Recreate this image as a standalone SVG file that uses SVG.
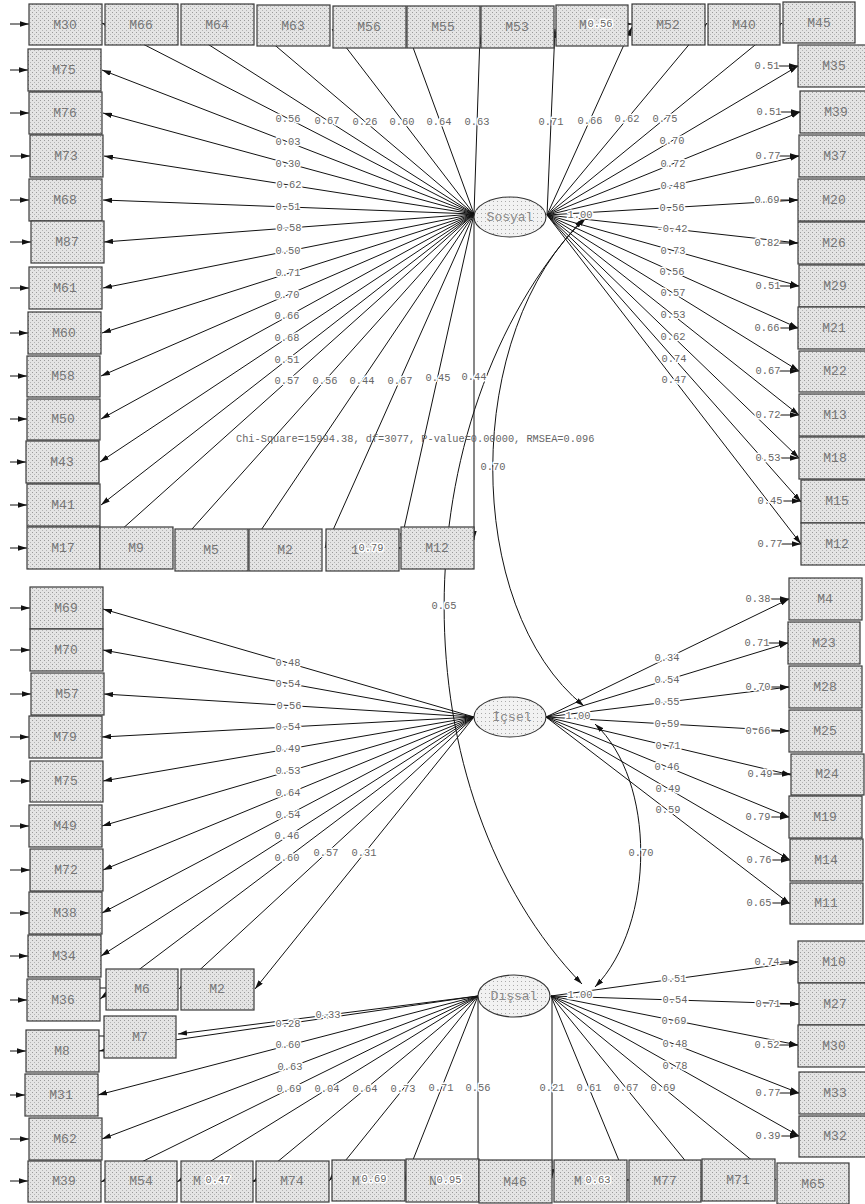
<svg xmlns="http://www.w3.org/2000/svg" width="865" height="1204" viewBox="0 0 865 1204">
<style>
.b{fill:url(#dots);stroke:#3a3a3a;stroke-width:1.2}
.el{fill:url(#edots);stroke:#333;stroke-width:1.1}
.t{font-family:"Liberation Mono",monospace;font-size:13px;fill:#777;text-anchor:middle;dominant-baseline:central}
.et{font-family:"Liberation Mono",monospace;font-size:13px;fill:#888;text-anchor:middle;dominant-baseline:central}
.l{font-family:"Liberation Mono",monospace;font-size:10.4px;fill:#666;text-anchor:middle;dominant-baseline:central;paint-order:stroke;stroke:#fff;stroke-width:3px;stroke-linejoin:round}
.c{stroke:#111;stroke-width:1;fill:none;marker-end:url(#ah)}
.cv{stroke:#111;stroke-width:1;fill:none;marker-start:url(#ah);marker-end:url(#ah)}
.er{stroke:#111;stroke-width:1;marker-end:url(#ah)}
</style>
<defs>
<pattern id="dots" width="4" height="4" patternUnits="userSpaceOnUse">
<rect width="4" height="4" fill="#e4e4e4"/>
<rect x="0" y="0" width="1" height="1" fill="#9a9a9a"/>
<rect x="2" y="2" width="1" height="1" fill="#b4b4b4"/>
</pattern>
<pattern id="edots" width="4" height="4" patternUnits="userSpaceOnUse">
<rect width="4" height="4" fill="#f2f2f2"/>
<rect x="1" y="1" width="1" height="1" fill="#aaa"/>
</pattern>
<marker id="ah" viewBox="0 0 10 6" refX="10" refY="3" markerWidth="9" markerHeight="5.4" markerUnits="userSpaceOnUse" orient="auto-start-reverse">
<path d="M0,0 L10,3 L0,6 z" fill="#111"/>
</marker>
</defs>
<rect width="865" height="1204" fill="#fff"/>

<g id="connectors">
<line class="c" x1="474" y1="214" x2="102" y2="23"/>
<line class="c" x1="474" y1="214" x2="181" y2="27"/>
<line class="c" x1="474" y1="214" x2="257" y2="30"/>
<line class="c" x1="474" y1="214" x2="332" y2="29"/>
<line class="c" x1="474" y1="214" x2="407" y2="31"/>
<line class="c" x1="474" y1="214" x2="480" y2="35"/>
<line class="c" x1="547" y1="215" x2="555" y2="29"/>
<line class="c" x1="547" y1="215" x2="632" y2="27"/>
<line class="c" x1="547" y1="215" x2="707" y2="23"/>
<line class="c" x1="547" y1="215" x2="782" y2="23"/>
<line class="c" x1="474" y1="214" x2="102" y2="70"/>
<line class="c" x1="474" y1="214" x2="103" y2="113"/>
<line class="c" x1="474" y1="214" x2="104" y2="156"/>
<line class="c" x1="474" y1="214" x2="103" y2="200"/>
<line class="c" x1="474" y1="214" x2="104" y2="242"/>
<line class="c" x1="474" y1="214" x2="103" y2="288"/>
<line class="c" x1="474" y1="214" x2="102" y2="333"/>
<line class="c" x1="474" y1="214" x2="101" y2="376"/>
<line class="c" x1="474" y1="214" x2="101" y2="419"/>
<line class="c" x1="474" y1="214" x2="100" y2="462"/>
<line class="c" x1="474" y1="214" x2="101" y2="505"/>
<line class="c" x1="474" y1="214" x2="101" y2="548"/>
<line class="c" x1="474" y1="214" x2="175" y2="548"/>
<line class="c" x1="474" y1="214" x2="249" y2="548"/>
<line class="c" x1="474" y1="214" x2="325" y2="548"/>
<line class="c" x1="474" y1="214" x2="401" y2="542"/>
<line class="c" x1="474" y1="214" x2="474" y2="540"/>
<line class="c" x1="547" y1="215" x2="798" y2="66"/>
<line class="c" x1="547" y1="215" x2="800" y2="112"/>
<line class="c" x1="547" y1="215" x2="799" y2="156"/>
<line class="c" x1="547" y1="215" x2="798" y2="200"/>
<line class="c" x1="547" y1="215" x2="798" y2="243"/>
<line class="c" x1="547" y1="215" x2="799" y2="286"/>
<line class="c" x1="547" y1="215" x2="798" y2="328"/>
<line class="c" x1="547" y1="215" x2="799" y2="371"/>
<line class="c" x1="547" y1="215" x2="799" y2="415"/>
<line class="c" x1="547" y1="215" x2="799" y2="458"/>
<line class="c" x1="547" y1="215" x2="801" y2="502"/>
<line class="c" x1="547" y1="215" x2="801" y2="544"/>
<line class="c" x1="474" y1="717" x2="103" y2="609"/>
<line class="c" x1="474" y1="717" x2="103" y2="650"/>
<line class="c" x1="474" y1="717" x2="104" y2="694"/>
<line class="c" x1="474" y1="717" x2="102" y2="737"/>
<line class="c" x1="474" y1="717" x2="103" y2="781"/>
<line class="c" x1="474" y1="717" x2="102" y2="826"/>
<line class="c" x1="474" y1="717" x2="103" y2="870"/>
<line class="c" x1="474" y1="717" x2="102" y2="913"/>
<line class="c" x1="474" y1="717" x2="101" y2="956"/>
<line class="c" x1="474" y1="717" x2="100" y2="999"/>
<line class="c" x1="474" y1="717" x2="179" y2="989"/>
<line class="c" x1="474" y1="717" x2="255" y2="989"/>
<line class="c" x1="546" y1="717" x2="789" y2="599"/>
<line class="c" x1="546" y1="717" x2="788" y2="643"/>
<line class="c" x1="546" y1="717" x2="789" y2="687"/>
<line class="c" x1="546" y1="717" x2="789" y2="731"/>
<line class="c" x1="546" y1="717" x2="791" y2="775"/>
<line class="c" x1="546" y1="717" x2="789" y2="817"/>
<line class="c" x1="546" y1="717" x2="790" y2="860"/>
<line class="c" x1="546" y1="717" x2="790" y2="904"/>
<line class="c" x1="478" y1="996" x2="178" y2="1034"/>
<line class="c" x1="478" y1="996" x2="99" y2="1051"/>
<line class="c" x1="478" y1="996" x2="98" y2="1095"/>
<line class="c" x1="478" y1="996" x2="102" y2="1139"/>
<line class="c" x1="478" y1="996" x2="101" y2="1182"/>
<line class="c" x1="478" y1="996" x2="177" y2="1182"/>
<line class="c" x1="478" y1="996" x2="253" y2="1182"/>
<line class="c" x1="478" y1="996" x2="329" y2="1181"/>
<line class="c" x1="478" y1="996" x2="405" y2="1180"/>
<line class="c" x1="478" y1="996" x2="478" y2="1178"/>
<line class="c" x1="552" y1="996" x2="552" y2="1178"/>
<line class="c" x1="551" y1="996" x2="627" y2="1180"/>
<line class="c" x1="551" y1="996" x2="701" y2="1180"/>
<line class="c" x1="551" y1="996" x2="776" y2="1180"/>
<line class="c" x1="551" y1="996" x2="798" y2="962"/>
<line class="c" x1="551" y1="996" x2="799" y2="1004"/>
<line class="c" x1="551" y1="996" x2="798" y2="1045"/>
<line class="c" x1="551" y1="996" x2="799" y2="1093"/>
<line class="c" x1="551" y1="996" x2="799" y2="1136"/>
<path class="cv" d="M586,218 C462,330 462,608 584,706"/>
<path class="cv" d="M595,724 C656,780 656,924 595,987"/>
<path class="cv" d="M583,219 C398,420 398,795 582,984"/>
<line class="er" x1="10" y1="24" x2="29" y2="24"/>
<line class="er" x1="10" y1="70" x2="28" y2="70"/>
<line class="er" x1="10" y1="113" x2="29" y2="113"/>
<line class="er" x1="10" y1="156" x2="30" y2="156"/>
<line class="er" x1="10" y1="200" x2="29" y2="200"/>
<line class="er" x1="10" y1="242" x2="31" y2="242"/>
<line class="er" x1="10" y1="288" x2="29" y2="288"/>
<line class="er" x1="10" y1="333" x2="28" y2="333"/>
<line class="er" x1="10" y1="376" x2="27" y2="376"/>
<line class="er" x1="10" y1="419" x2="27" y2="419"/>
<line class="er" x1="10" y1="462" x2="26" y2="462"/>
<line class="er" x1="10" y1="505" x2="27" y2="505"/>
<line class="er" x1="10" y1="548" x2="27" y2="548"/>
<line class="er" x1="10" y1="608" x2="30" y2="608"/>
<line class="er" x1="10" y1="650" x2="30" y2="650"/>
<line class="er" x1="10" y1="694" x2="31" y2="694"/>
<line class="er" x1="10" y1="737" x2="29" y2="737"/>
<line class="er" x1="10" y1="781" x2="30" y2="781"/>
<line class="er" x1="10" y1="826" x2="29" y2="826"/>
<line class="er" x1="10" y1="870" x2="30" y2="870"/>
<line class="er" x1="10" y1="913" x2="29" y2="913"/>
<line class="er" x1="10" y1="956" x2="28" y2="956"/>
<line class="er" x1="10" y1="1000" x2="27" y2="1000"/>
<line class="er" x1="10" y1="1051" x2="26" y2="1051"/>
<line class="er" x1="10" y1="1095" x2="25" y2="1095"/>
<line class="er" x1="10" y1="1139" x2="29" y2="1139"/>
<line class="er" x1="10" y1="1181" x2="28" y2="1181"/>
<line stroke="#111" x1="100" y1="988" x2="106" y2="988"/>
<line stroke="#111" x1="99" y1="1036" x2="104" y2="1036"/>
<line class="er" x1="778" y1="66" x2="798" y2="66"/>
<line class="er" x1="780" y1="112" x2="800" y2="112"/>
<line class="er" x1="779" y1="156" x2="799" y2="156"/>
<line class="er" x1="778" y1="200" x2="798" y2="200"/>
<line class="er" x1="778" y1="243" x2="798" y2="243"/>
<line class="er" x1="779" y1="286" x2="799" y2="286"/>
<line class="er" x1="778" y1="328" x2="798" y2="328"/>
<line class="er" x1="779" y1="371" x2="799" y2="371"/>
<line class="er" x1="779" y1="415" x2="799" y2="415"/>
<line class="er" x1="779" y1="458" x2="799" y2="458"/>
<line class="er" x1="781" y1="501" x2="801" y2="501"/>
<line class="er" x1="781" y1="544" x2="801" y2="544"/>
<line class="er" x1="769" y1="599" x2="789" y2="599"/>
<line class="er" x1="768" y1="643" x2="788" y2="643"/>
<line class="er" x1="769" y1="687" x2="789" y2="687"/>
<line class="er" x1="769" y1="731" x2="789" y2="731"/>
<line class="er" x1="771" y1="774" x2="791" y2="774"/>
<line class="er" x1="769" y1="817" x2="789" y2="817"/>
<line class="er" x1="770" y1="860" x2="790" y2="860"/>
<line class="er" x1="770" y1="903" x2="790" y2="903"/>
<line class="er" x1="778" y1="962" x2="798" y2="962"/>
<line class="er" x1="779" y1="1004" x2="799" y2="1004"/>
<line class="er" x1="778" y1="1045" x2="798" y2="1045"/>
<line class="er" x1="779" y1="1093" x2="799" y2="1093"/>
<line class="er" x1="779" y1="1136" x2="799" y2="1136"/>
<line class="er" x1="612" y1="24" x2="632" y2="24"/>
<line class="er" x1="383" y1="548" x2="401" y2="548"/>
<line class="er" x1="233" y1="1181" x2="256" y2="1181"/>
<line class="er" x1="387" y1="1180" x2="406" y2="1180"/>
<line class="er" x1="461" y1="1180" x2="479" y2="1180"/>
<line class="er" x1="611" y1="1180" x2="629" y2="1180"/>
</g>

<g id="loading-labels">
<text class="l" x="288" y="119">0.56</text>
<text class="l" x="327" y="121">0.67</text>
<text class="l" x="365" y="122">0.26</text>
<text class="l" x="402" y="122">0.60</text>
<text class="l" x="439" y="122">0.64</text>
<text class="l" x="477" y="122">0.63</text>
<text class="l" x="551" y="122">0.71</text>
<text class="l" x="590" y="121">0.66</text>
<text class="l" x="627" y="119">0.62</text>
<text class="l" x="665" y="119">0.75</text>
<text class="l" x="288" y="142">0.03</text>
<text class="l" x="288" y="164">0.30</text>
<text class="l" x="289" y="185">0.62</text>
<text class="l" x="288" y="207">0.51</text>
<text class="l" x="289" y="228">0.58</text>
<text class="l" x="288" y="251">0.50</text>
<text class="l" x="288" y="273">0.71</text>
<text class="l" x="287" y="295">0.70</text>
<text class="l" x="287" y="316">0.66</text>
<text class="l" x="287" y="338">0.68</text>
<text class="l" x="287" y="360">0.51</text>
<text class="l" x="287" y="381">0.57</text>
<text class="l" x="325" y="381">0.56</text>
<text class="l" x="362" y="381">0.44</text>
<text class="l" x="400" y="381">0.67</text>
<text class="l" x="438" y="378">0.45</text>
<text class="l" x="474" y="377">0.44</text>
<text class="l" x="672" y="141">0.70</text>
<text class="l" x="673" y="164">0.72</text>
<text class="l" x="673" y="186">0.48</text>
<text class="l" x="672" y="208">0.56</text>
<text class="l" x="672" y="229">-0.42</text>
<text class="l" x="673" y="251">0.73</text>
<text class="l" x="672" y="272">0.56</text>
<text class="l" x="673" y="293">0.57</text>
<text class="l" x="673" y="315">0.53</text>
<text class="l" x="673" y="337">0.62</text>
<text class="l" x="674" y="359">0.74</text>
<text class="l" x="674" y="380">0.47</text>
<text class="l" x="288" y="663">0.48</text>
<text class="l" x="288" y="684">0.54</text>
<text class="l" x="289" y="706">0.56</text>
<text class="l" x="288" y="727">0.54</text>
<text class="l" x="288" y="749">0.49</text>
<text class="l" x="288" y="771">0.53</text>
<text class="l" x="288" y="793">0.64</text>
<text class="l" x="288" y="815">0.54</text>
<text class="l" x="287" y="836">0.46</text>
<text class="l" x="287" y="858">0.60</text>
<text class="l" x="326" y="853">0.57</text>
<text class="l" x="364" y="853">0.31</text>
<text class="l" x="667" y="658">0.34</text>
<text class="l" x="667" y="680">0.54</text>
<text class="l" x="667" y="702">0.55</text>
<text class="l" x="667" y="724">0.59</text>
<text class="l" x="668" y="746">0.71</text>
<text class="l" x="667" y="767">0.46</text>
<text class="l" x="668" y="789">0.49</text>
<text class="l" x="668" y="810">0.59</text>
<text class="l" x="328" y="1015">0.33</text>
<text class="l" x="288" y="1024">0.28</text>
<text class="l" x="288" y="1045">0.60</text>
<text class="l" x="290" y="1067">0.63</text>
<text class="l" x="289" y="1089">0.69</text>
<text class="l" x="327" y="1089">0.04</text>
<text class="l" x="365" y="1089">0.64</text>
<text class="l" x="403" y="1089">0.73</text>
<text class="l" x="441" y="1088">0.71</text>
<text class="l" x="478" y="1088">0.56</text>
<text class="l" x="552" y="1088">0.21</text>
<text class="l" x="589" y="1088">0.61</text>
<text class="l" x="626" y="1088">0.67</text>
<text class="l" x="663" y="1088">0.69</text>
<text class="l" x="674" y="979">0.51</text>
<text class="l" x="675" y="1000">0.54</text>
<text class="l" x="674" y="1021">0.69</text>
<text class="l" x="675" y="1044">0.48</text>
<text class="l" x="675" y="1066">0.78</text>
<text class="l" x="493" y="467">0.70</text>
<text class="l" x="641" y="853">0.70</text>
<text class="l" x="444" y="606">0.65</text>
</g>

<g id="error-labels">
<text class="l" x="767" y="66">0.51</text>
<text class="l" x="769" y="112">0.51</text>
<text class="l" x="768" y="156">0.77</text>
<text class="l" x="767" y="200">0.69</text>
<text class="l" x="767" y="243">0.82</text>
<text class="l" x="768" y="286">0.51</text>
<text class="l" x="767" y="328">0.66</text>
<text class="l" x="768" y="371">0.67</text>
<text class="l" x="768" y="415">0.72</text>
<text class="l" x="768" y="458">0.53</text>
<text class="l" x="770" y="501">0.45</text>
<text class="l" x="770" y="544">0.77</text>
<text class="l" x="758" y="599">0.38</text>
<text class="l" x="757" y="643">0.71</text>
<text class="l" x="758" y="687">0.70</text>
<text class="l" x="758" y="731">0.66</text>
<text class="l" x="760" y="774">0.49</text>
<text class="l" x="758" y="817">0.79</text>
<text class="l" x="759" y="860">0.76</text>
<text class="l" x="759" y="903">0.65</text>
<text class="l" x="767" y="962">0.74</text>
<text class="l" x="768" y="1004">0.71</text>
<text class="l" x="767" y="1045">0.52</text>
<text class="l" x="768" y="1093">0.77</text>
<text class="l" x="768" y="1136">0.39</text>
</g>

<text x="236" y="439" font-family="Liberation Mono, monospace" font-size="10.3" fill="#666" dominant-baseline="central">Chi-Square=15994.38, df=3077, P-value=0.00000, RMSEA=0.096</text>

<g id="Sosyal"><ellipse class="el" cx="510" cy="217" rx="36" ry="20"/><text class="et" x="510" y="217">Sosyal</text><text class="l" x="580" y="215">1.00</text></g>
<g id="Icsel"><ellipse class="el" cx="510" cy="717" rx="36" ry="20"/><text class="et" x="512" y="717">İçsel</text><text class="l" x="578" y="716">1.00</text></g>
<g id="Dissal"><ellipse class="el" cx="514" cy="996" rx="36" ry="21"/><text class="et" x="514" y="996">Dışsal</text><text class="l" x="580" y="995">1.00</text></g>

<g id="M30a"><rect class="b" x="29" y="4" width="73" height="41"/><text class="t" x="65" y="25">M30</text></g>
<g id="M66"><rect class="b" x="105" y="4" width="73" height="41"/><text class="t" x="141" y="25">M66</text></g>
<g id="M64"><rect class="b" x="181" y="4" width="73" height="41"/><text class="t" x="217" y="25">M64</text></g>
<g id="M63"><rect class="b" x="257" y="5" width="73" height="41"/><text class="t" x="293" y="26">M63</text></g>
<g id="M56"><rect class="b" x="333" y="6" width="73" height="42"/><text class="t" x="369" y="27">M56</text></g>
<g id="M55"><rect class="b" x="407" y="6" width="73" height="42"/><text class="t" x="443" y="27">M55</text></g>
<g id="M53"><rect class="b" x="481" y="6" width="73" height="42"/><text class="t" x="517" y="27">M53</text></g>
<g id="Mx056"><rect class="b" x="556" y="5" width="72" height="41"/><text class="t" x="583" y="25">M</text><text class="l" x="600" y="24">0.56</text></g>
<g id="M52"><rect class="b" x="632" y="4" width="73" height="41"/><text class="t" x="668" y="25">M52</text></g>
<g id="M40"><rect class="b" x="708" y="4" width="72" height="41"/><text class="t" x="744" y="25">M40</text></g>
<g id="M45"><rect class="b" x="783" y="2" width="72" height="41"/><text class="t" x="819" y="23">M45</text></g>

<g id="M35"><rect class="b" x="798" y="45" width="72" height="42"/><text class="t" x="834" y="66">M35</text></g>
<g id="M39a"><rect class="b" x="800" y="91" width="72" height="42"/><text class="t" x="836" y="112">M39</text></g>
<g id="M37"><rect class="b" x="799" y="135" width="72" height="42"/><text class="t" x="835" y="156">M37</text></g>
<g id="M20"><rect class="b" x="798" y="179" width="72" height="42"/><text class="t" x="834" y="200">M20</text></g>
<g id="M26"><rect class="b" x="798" y="222" width="72" height="42"/><text class="t" x="834" y="243">M26</text></g>
<g id="M29"><rect class="b" x="799" y="265" width="72" height="42"/><text class="t" x="835" y="286">M29</text></g>
<g id="M21"><rect class="b" x="798" y="307" width="72" height="42"/><text class="t" x="834" y="328">M21</text></g>
<g id="M22"><rect class="b" x="799" y="351" width="72" height="41"/><text class="t" x="835" y="371">M22</text></g>
<g id="M13"><rect class="b" x="799" y="394" width="72" height="42"/><text class="t" x="835" y="415">M13</text></g>
<g id="M18"><rect class="b" x="799" y="437" width="72" height="42"/><text class="t" x="835" y="458">M18</text></g>
<g id="M15"><rect class="b" x="801" y="480" width="72" height="43"/><text class="t" x="837" y="501">M15</text></g>
<g id="M12a"><rect class="b" x="801" y="523" width="72" height="42"/><text class="t" x="837" y="544">M12</text></g>

<g id="M75a"><rect class="b" x="28" y="49" width="73" height="42"/><text class="t" x="64" y="70">M75</text></g>
<g id="M76"><rect class="b" x="29" y="92" width="73" height="42"/><text class="t" x="65" y="113">M76</text></g>
<g id="M73"><rect class="b" x="30" y="135" width="73" height="42"/><text class="t" x="66" y="156">M73</text></g>
<g id="M68"><rect class="b" x="29" y="179" width="73" height="42"/><text class="t" x="65" y="200">M68</text></g>
<g id="M87"><rect class="b" x="31" y="221" width="73" height="42"/><text class="t" x="67" y="242">M87</text></g>
<g id="M61"><rect class="b" x="29" y="267" width="73" height="42"/><text class="t" x="65" y="288">M61</text></g>
<g id="M60"><rect class="b" x="28" y="312" width="73" height="42"/><text class="t" x="64" y="333">M60</text></g>
<g id="M58"><rect class="b" x="27" y="356" width="73" height="41"/><text class="t" x="63" y="376">M58</text></g>
<g id="M50"><rect class="b" x="27" y="399" width="73" height="41"/><text class="t" x="63" y="419">M50</text></g>
<g id="M43"><rect class="b" x="26" y="441" width="73" height="42"/><text class="t" x="62" y="462">M43</text></g>
<g id="M41"><rect class="b" x="27" y="484" width="73" height="42"/><text class="t" x="63" y="505">M41</text></g>
<g id="M17"><rect class="b" x="27" y="527" width="73" height="42"/><text class="t" x="63" y="548">M17</text></g>
<g id="M9"><rect class="b" x="100" y="527" width="73" height="42"/><text class="t" x="136" y="548">M9</text></g>
<g id="M5"><rect class="b" x="175" y="529" width="73" height="42"/><text class="t" x="211" y="550">M5</text></g>
<g id="M2a"><rect class="b" x="249" y="529" width="73" height="42"/><text class="t" x="285" y="550">M2</text></g>
<g id="Mx079"><rect class="b" x="326" y="529" width="73" height="42"/><text class="t" x="355" y="550">1</text><text class="l" x="371" y="548">0.79</text></g>
<g id="M12b"><rect class="b" x="401" y="527" width="73" height="42"/><text class="t" x="437" y="548">M12</text></g>

<g id="M69"><rect class="b" x="30" y="587" width="73" height="42"/><text class="t" x="66" y="608">M69</text></g>
<g id="M70"><rect class="b" x="30" y="629" width="73" height="42"/><text class="t" x="66" y="650">M70</text></g>
<g id="M57"><rect class="b" x="31" y="673" width="73" height="42"/><text class="t" x="67" y="694">M57</text></g>
<g id="M79"><rect class="b" x="29" y="716" width="73" height="42"/><text class="t" x="65" y="737">M79</text></g>
<g id="M75b"><rect class="b" x="30" y="761" width="73" height="41"/><text class="t" x="66" y="781">M75</text></g>
<g id="M49"><rect class="b" x="29" y="805" width="73" height="42"/><text class="t" x="65" y="826">M49</text></g>
<g id="M72"><rect class="b" x="30" y="849" width="73" height="42"/><text class="t" x="66" y="870">M72</text></g>
<g id="M38"><rect class="b" x="29" y="892" width="73" height="42"/><text class="t" x="65" y="913">M38</text></g>
<g id="M34"><rect class="b" x="28" y="935" width="73" height="42"/><text class="t" x="64" y="956">M34</text></g>
<g id="M36"><rect class="b" x="27" y="979" width="73" height="42"/><text class="t" x="63" y="1000">M36</text></g>
<g id="M6"><rect class="b" x="106" y="969" width="72" height="41"/><text class="t" x="142" y="989">M6</text></g>
<g id="M2b"><rect class="b" x="181" y="969" width="73" height="41"/><text class="t" x="217" y="989">M2</text></g>

<g id="M4"><rect class="b" x="789" y="578" width="73" height="42"/><text class="t" x="825" y="599">M4</text></g>
<g id="M23"><rect class="b" x="788" y="622" width="72" height="42"/><text class="t" x="824" y="643">M23</text></g>
<g id="M28"><rect class="b" x="789" y="666" width="73" height="42"/><text class="t" x="825" y="687">M28</text></g>
<g id="M25"><rect class="b" x="789" y="710" width="73" height="42"/><text class="t" x="825" y="731">M25</text></g>
<g id="M24"><rect class="b" x="791" y="754" width="73" height="41"/><text class="t" x="827" y="774">M24</text></g>
<g id="M19"><rect class="b" x="789" y="796" width="73" height="42"/><text class="t" x="825" y="817">M19</text></g>
<g id="M14"><rect class="b" x="790" y="839" width="73" height="42"/><text class="t" x="826" y="860">M14</text></g>
<g id="M11"><rect class="b" x="790" y="883" width="73" height="41"/><text class="t" x="826" y="903">M11</text></g>

<g id="M7"><rect class="b" x="104" y="1016" width="72" height="42"/><text class="t" x="140" y="1037">M7</text></g>
<g id="M8"><rect class="b" x="26" y="1030" width="73" height="42"/><text class="t" x="62" y="1051">M8</text></g>
<g id="M31"><rect class="b" x="25" y="1074" width="73" height="42"/><text class="t" x="61" y="1095">M31</text></g>
<g id="M62"><rect class="b" x="29" y="1118" width="73" height="42"/><text class="t" x="65" y="1139">M62</text></g>
<g id="M39b"><rect class="b" x="28" y="1161" width="73" height="41"/><text class="t" x="64" y="1181">M39</text></g>
<g id="M54"><rect class="b" x="105" y="1161" width="72" height="41"/><text class="t" x="141" y="1181">M54</text></g>
<g id="Mx047"><rect class="b" x="181" y="1161" width="72" height="41"/><text class="t" x="197" y="1181">M</text><text class="l" x="218" y="1180">0.47</text></g>
<g id="M74"><rect class="b" x="256" y="1161" width="73" height="41"/><text class="t" x="292" y="1181">M74</text></g>
<g id="Mx069"><rect class="b" x="332" y="1160" width="73" height="41"/><text class="t" x="356" y="1181">M</text><text class="l" x="374" y="1179">0.69</text></g>
<g id="Nx095"><rect class="b" x="406" y="1159" width="73" height="43"/><text class="t" x="433" y="1181">N</text><text class="l" x="449" y="1180">0.95</text></g>
<g id="M46"><rect class="b" x="479" y="1160" width="73" height="43"/><text class="t" x="515" y="1182">M46</text></g>
<g id="Mx063"><rect class="b" x="554" y="1160" width="73" height="42"/><text class="t" x="578" y="1181">M</text><text class="l" x="598" y="1180">0.63</text></g>
<g id="M77"><rect class="b" x="629" y="1160" width="72" height="42"/><text class="t" x="665" y="1181">M77</text></g>
<g id="M71"><rect class="b" x="702" y="1159" width="73" height="42"/><text class="t" x="738" y="1180">M71</text></g>
<g id="M65"><rect class="b" x="777" y="1163" width="72" height="41"/><text class="t" x="813" y="1184">M65</text></g>

<g id="M10"><rect class="b" x="798" y="941" width="72" height="42"/><text class="t" x="834" y="962">M10</text></g>
<g id="M27"><rect class="b" x="799" y="983" width="72" height="42"/><text class="t" x="835" y="1004">M27</text></g>
<g id="M30b"><rect class="b" x="798" y="1025" width="72" height="42"/><text class="t" x="834" y="1046">M30</text></g>
<g id="M33"><rect class="b" x="799" y="1072" width="72" height="42"/><text class="t" x="835" y="1093">M33</text></g>
<g id="M32"><rect class="b" x="799" y="1116" width="72" height="41"/><text class="t" x="835" y="1136">M32</text></g>
</svg>
